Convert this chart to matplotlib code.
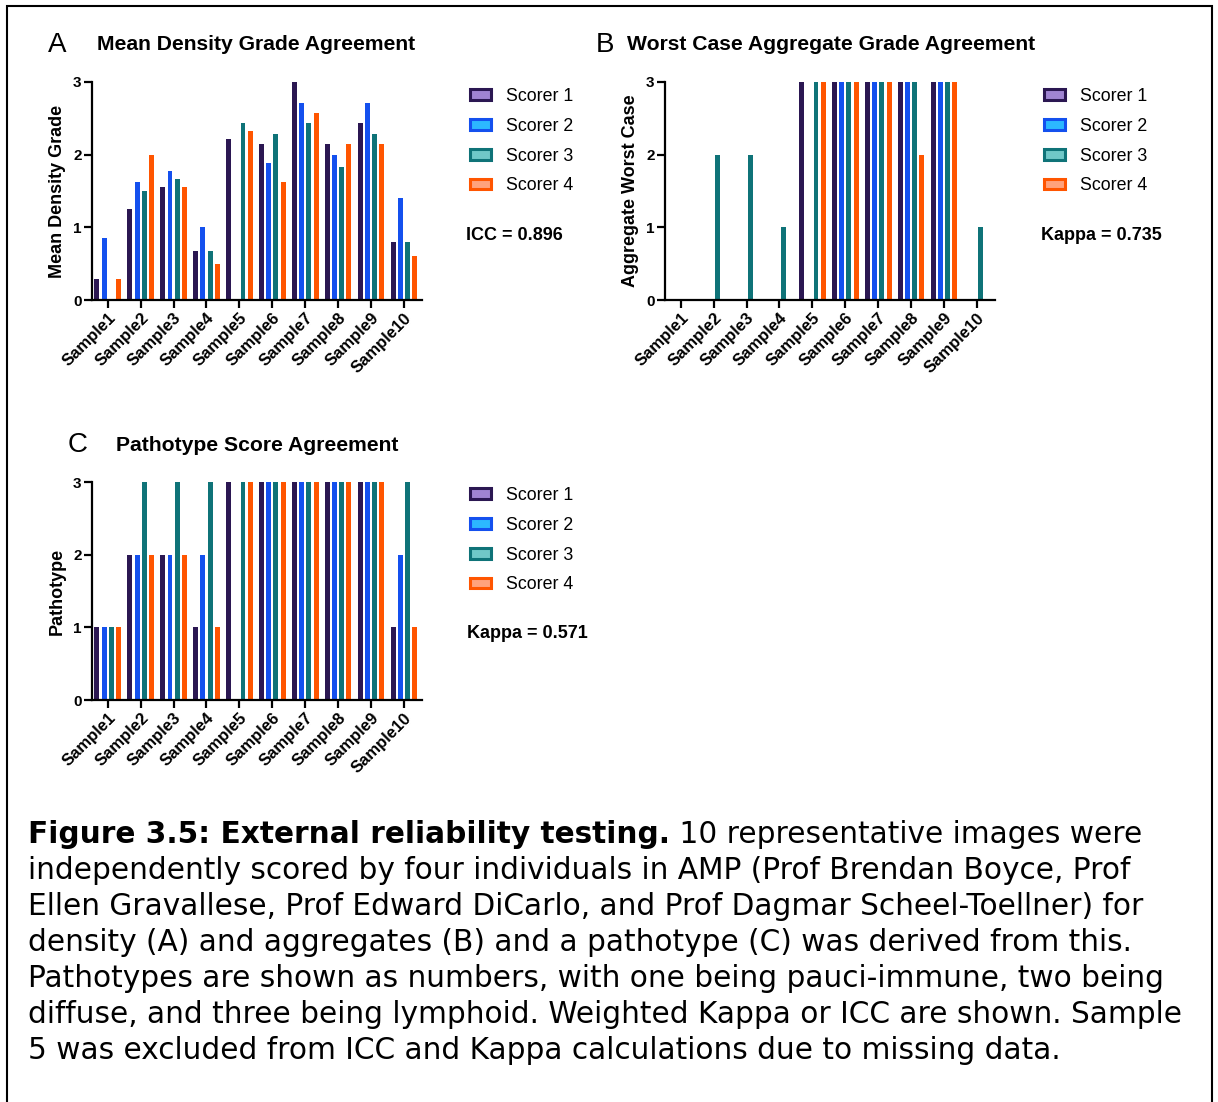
import numpy as np
import matplotlib.pyplot as plt
from matplotlib.patches import Patch, Rectangle

nan = np.nan

samples = ['Sample1', 'Sample2', 'Sample3', 'Sample4', 'Sample5',
           'Sample6', 'Sample7', 'Sample8', 'Sample9', 'Sample10']
scorers = ['Scorer 1', 'Scorer 2', 'Scorer 3', 'Scorer 4']

# mean density grade per sample, one list per scorer
density_s1 = [0.29, 1.25, 1.56, 0.67, 2.21, 2.14, 3.00, 2.14, 2.43, 0.80]
density_s2 = [0.86, 1.63, 1.78, 1.00, nan, 1.88, 2.71, 2.00, 2.71, 1.40]
density_s3 = [nan, 1.50, 1.67, 0.67, 2.43, 2.29, 2.43, 1.83, 2.29, 0.80]
density_s4 = [0.29, 2.00, 1.56, 0.50, 2.33, 1.63, 2.57, 2.14, 2.14, 0.60]

# worst case aggregate grade
aggregate_s1 = [0, 0, 0, 0, 3, 3, 3, 3, 3, 0]
aggregate_s2 = [0, 0, 0, 0, nan, 3, 3, 3, 3, 0]
aggregate_s3 = [0, 2, 2, 1, 3, 3, 3, 3, 3, 1]
aggregate_s4 = [0, 0, 0, 0, 3, 3, 3, 2, 3, 0]

# pathotype (1 pauci-immune, 2 diffuse, 3 lymphoid)
pathotype_s1 = [1, 2, 2, 1, 3, 3, 3, 3, 3, 1]
pathotype_s2 = [1, 2, 2, 2, nan, 3, 3, 3, 3, 2]
pathotype_s3 = [1, 3, 3, 3, 3, 3, 3, 3, 3, 3]
pathotype_s4 = [1, 2, 2, 1, 3, 3, 3, 3, 3, 1]

icc_density = 0.896
kappa_aggregate = 0.735
kappa_pathotype = 0.571

bar_colors = ['#2b1752', '#1450ee', '#0f7378', '#ff5500']
legend_fills = ['#a084d2', '#2cb8ff', '#70c8c8', '#ffa27c']

W, H = 1218, 1102
fig = plt.figure(figsize=(W / 100, H / 100), dpi=100)
plt.rcParams['font.family'] = 'Liberation Sans'


def fx(px):
    return px / W


def fy(py):
    return 1 - py / H


def panel(left, top, series, ylabel, letter, title, letter_x, title_x,
          title_y, leg_x, leg_y, stat_text, stat_x, stat_y):
    ax = fig.add_axes([fx(left), fy(top + 218), fx(330), 218 / H])
    x = np.arange(len(samples))
    offsets = [-0.33, -0.11, 0.11, 0.33]
    for vals, off, c in zip(series, offsets, bar_colors):
        ax.bar(x + off, vals, width=0.15, color=c, linewidth=0)
    ax.set_xlim(-0.48, 9.55)
    ax.set_ylim(0, 3)
    ax.set_yticks([0, 1, 2, 3])
    ax.set_xticks(x)
    ax.set_xticklabels(samples, rotation=45, ha='right',
                       rotation_mode='anchor', fontsize=12,
                       fontweight='bold')
    for lab in ax.get_yticklabels():
        lab.set_fontweight('bold')
        lab.set_fontsize(11)
    ax.tick_params(axis='both', width=1.6, length=5.5, pad=2)
    ax.spines['top'].set_visible(False)
    ax.spines['right'].set_visible(False)
    ax.spines['left'].set_linewidth(1.6)
    ax.spines['bottom'].set_linewidth(1.6)
    ax.set_ylabel(ylabel, fontsize=13, fontweight='bold', labelpad=5)

    fig.text(fx(letter_x), fy(title_y), letter, fontsize=20, va='center')
    fig.text(fx(title_x), fy(title_y), title, fontsize=15.2,
             fontweight='bold', va='center')

    handles = [Patch(facecolor=f, edgecolor=e, linewidth=2.2)
               for f, e in zip(legend_fills, bar_colors)]
    ax.legend(handles, scorers, loc='upper left',
              bbox_to_anchor=(fx(leg_x), fy(leg_y)),
              bbox_transform=fig.transFigure, frameon=False, fontsize=12.8,
              borderpad=0, borderaxespad=0, handlelength=1.2,
              handleheight=0.55, handletextpad=0.8, labelspacing=0.72)

    fig.text(fx(stat_x), fy(stat_y), stat_text, fontsize=13,
             fontweight='bold', va='center')
    return ax


panel(92, 82, [density_s1, density_s2, density_s3, density_s4],
      'Mean Density Grade', 'A', 'Mean Density Grade Agreement',
      48, 97, 45, 470, 88, f'ICC = {icc_density:.3f}', 466, 235)
panel(665, 82, [aggregate_s1, aggregate_s2, aggregate_s3, aggregate_s4],
      'Aggregate Worst Case', 'B', 'Worst Case Aggregate Grade Agreement',
      596, 627, 45, 1044, 88, f'Kappa = {kappa_aggregate:.3f}', 1041, 235)
panel(92, 482, [pathotype_s1, pathotype_s2, pathotype_s3, pathotype_s4],
      'Pathotype', 'C', 'Pathotype Score Agreement',
      68, 116, 445, 470, 487, f'Kappa = {kappa_pathotype:.3f}', 467, 634)

# frame around the whole figure
fig.patches.append(Rectangle((fx(7), -0.02), fx(1212 - 7), fy(6) + 0.02,
                             transform=fig.transFigure, fill=False,
                             edgecolor='black', linewidth=1.5))

# caption
cap_font = 'DejaVu Sans'
cap_size = 21.3
bold_part = 'Figure 3.5: External reliability testing.'
lines = [
    ' 10 representative images were',
    'independently scored by four individuals in AMP (Prof Brendan Boyce, Prof',
    'Ellen Gravallese, Prof Edward DiCarlo, and Prof Dagmar Scheel-Toellner) for',
    'density (A) and aggregates (B) and a pathotype (C) was derived from this.',
    'Pathotypes are shown as numbers, with one being pauci-immune, two being',
    'diffuse, and three being lymphoid. Weighted Kappa or ICC are shown. Sample',
    '5 was excluded from ICC and Kappa calculations due to missing data.',
]
first = fig.text(fx(28), fy(843), bold_part, fontsize=cap_size,
                 family=cap_font, fontweight='bold', va='baseline')
fig.canvas.draw()
bb = first.get_window_extent(renderer=fig.canvas.get_renderer())
fig.text(bb.x1 / W, fy(843), lines[0], fontsize=cap_size, family=cap_font,
         va='baseline')
for i, line in enumerate(lines[1:], start=1):
    fig.text(fx(28), fy(843 + 36 * i), line, fontsize=cap_size,
             family=cap_font, va='baseline')

fig.savefig('out.png', dpi=100)
